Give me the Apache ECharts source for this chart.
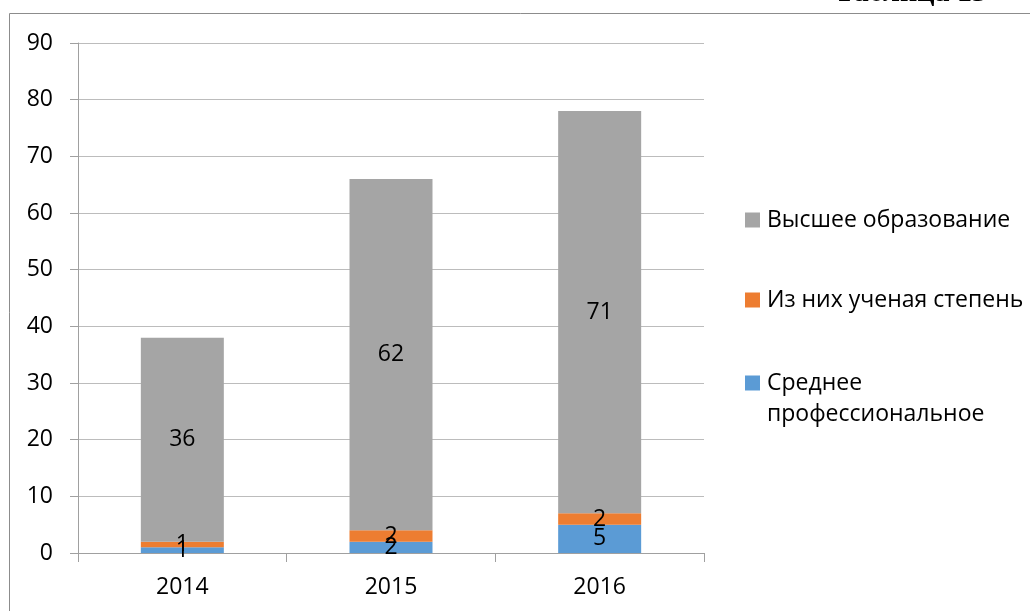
<!DOCTYPE html>
<html>
<head>
<meta charset="utf-8">
<script src="https://cdn.jsdelivr.net/npm/echarts@6/dist/echarts.min.js"></script>
<style>
    html, body { margin: 0; padding: 0; background: #fff; }
    #main { width: 1030px; height: 611px; }
</style>
</head>
<body>
<div id="main"></div>
<script>
var years = ['2014', '2015', '2016'];
var srednee = [1, 2, 5];
var stepen = [1, 2, 2];
var vysshee = [36, 62, 71];
var yTicks = { min: 0, max: 90, step: 10 };

var font = '"Open Sans", "Liberation Sans", sans-serif';
var labelStyle = {
    show: true,
    position: 'inside',
    color: '#000',
    fontSize: 23,
    fontFamily: font
};

var options = {
    animation: false,
    color: ['#5b9bd5', '#ed7d31', '#a5a5a5'],
    grid: {
        left: 78,
        right: 326,
        top: 43,
        bottom: 58
    },
    legend: [
        { data: ['Высшее образование'], left: 745, top: 208 },
        { data: ['Из них ученая степень'], left: 745, top: 288 },
        { data: ['Среднее профессиональное'], left: 745, top: 371, formatter: function () { return 'Среднее'; } }
    ].map(function (l) {
        l.orient = 'vertical';
        l.padding = 0;
        l.icon = 'rect';
        l.itemWidth = 15;
        l.itemHeight = 15;
        l.selectedMode = false;
        l.textStyle = { color: '#000', fontSize: 23, fontFamily: font, lineHeight: 24, padding: [0, 0, 0, 2] };
        return l;
    }),
    xAxis: {
        type: 'category',
        data: years,
        axisLine: { lineStyle: { color: '#a0a0a0', width: 1 } },
        axisTick: { show: true, length: 9, lineStyle: { color: '#a0a0a0' } },
        axisLabel: { color: '#000', fontSize: 23, fontFamily: font, margin: 23 }
    },
    yAxis: {
        type: 'value',
        min: yTicks.min,
        max: yTicks.max,
        interval: yTicks.step,
        axisLine: { show: true, lineStyle: { color: '#a0a0a0', width: 1 } },
        axisTick: { show: true, length: 8, lineStyle: { color: '#a0a0a0' } },
        axisLabel: { color: '#000', fontSize: 23, fontFamily: font, margin: 25 },
        splitLine: { lineStyle: { color: '#bcbcbc', width: 1 } }
    },
    graphic: [
        {
            type: 'rect',
            shape: { x: 9.5, y: 13.5, width: 1040, height: 620 },
            style: { fill: 'none', stroke: '#8c8c8c', lineWidth: 1 },
            silent: true
        },
        {
            type: 'text',
            x: 987,
            y: -7,
            style: {
                text: 'Таблица 13',
                fill: '#000',
                font: 'bold 30px "Liberation Serif", serif',
                align: 'right',
                verticalAlign: 'middle'
            },
            silent: true
        },
        {
            type: 'text',
            x: 767,
            y: 414,
            style: {
                text: 'профессиональное',
                fill: '#000',
                fontSize: 23,
                fontFamily: font,
                align: 'left',
                verticalAlign: 'middle'
            },
            silent: true
        }
    ],
    series: [
        {
            name: 'Среднее профессиональное',
            type: 'bar',
            stack: 'total',
            barWidth: 83,
            label: labelStyle,
            data: srednee
        },
        {
            name: 'Из них ученая степень',
            type: 'bar',
            stack: 'total',
            barWidth: 83,
            label: labelStyle,
            data: stepen
        },
        {
            name: 'Высшее образование',
            type: 'bar',
            stack: 'total',
            barWidth: 83,
            label: labelStyle,
            data: vysshee
        }
    ]
};

var chart = echarts.init(document.getElementById('main'));
chart.setOption(options);
</script>
</body>
</html>
